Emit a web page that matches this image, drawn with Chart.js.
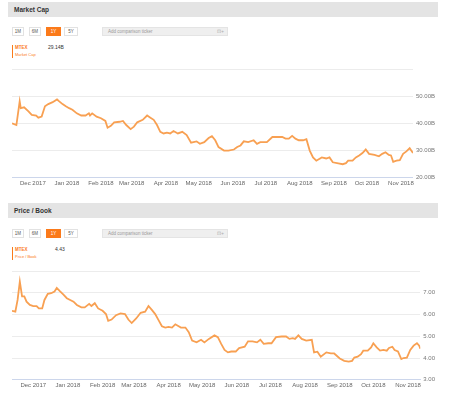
<!DOCTYPE html>
<html>
<head>
<meta charset="utf-8">
<title>MTEX Market Cap / Price to Book</title>
<script src="https://cdn.jsdelivr.net/npm/chart.js@4"></script>
<style>
  body { margin: 0; width: 450px; height: 397px; background: #fff; position: relative; overflow: hidden;
         font-family: Arial, "Liberation Sans", sans-serif; }
  .head { position: absolute; left: 8px; width: 430px; height: 15px; background: #e4e4e4;
          font-size: 6.5px; font-weight: bold; color: #333; line-height: 15px; padding-left: 6px; box-sizing: border-box; }
  .btn { position: absolute; height: 9px; border: 1px solid #e2e2e2; box-sizing: border-box; font-size: 4.5px;
         line-height: 7px; text-align: center; color: #555; background: #fff; }
  .btn.on { background: #fb7a1a; border-color: #fb7a1a; color: #fff; }
  .ticker { position: absolute; left: 102px; width: 126px; height: 9px; background: #efefef; border: 1px solid #e4e4e4;
            box-sizing: border-box; font-size: 4.5px; line-height: 7px; color: #999; padding-left: 5px; }
  .ticker span { position: absolute; right: 3px; top: 0; color: #aaa; }
  .legend { position: absolute; left: 12px; border-left: 1.5px solid #fb7a1a; padding-left: 2px; height: 13px; }
  .legend b { display: block; font-size: 4.5px; color: #fb7a1a; line-height: 6px; }
  .legend i { display: block; font-style: normal; font-size: 4px; color: #fb7a1a; line-height: 7px; }
  .val { position: absolute; font-size: 5px; color: #333; }
  .wrap { position: absolute; left: 0; width: 441px; height: 132px; }
</style>
</head>
<body>
<div class="head" style="top:2px">Market Cap</div>
<div class="btn" style="left:12px;top:27px;width:12px">1M</div>
<div class="btn" style="left:29px;top:27px;width:12px">6M</div>
<div class="btn on" style="left:46px;top:27px;width:15px">1Y</div>
<div class="btn" style="left:64px;top:27px;width:14px">5Y</div>
<div class="ticker" style="top:27px">Add comparison ticker<span>⊡+</span></div>
<div class="legend" style="top:45px"><b>MTEX</b><i>Market Cap</i></div>
<div class="val" style="left:48px;top:44px">29.14B</div>
<div class="wrap" style="top:60px"><canvas id="mcap"></canvas></div>

<div class="head" style="top:203px">Price / Book</div>
<div class="btn" style="left:12px;top:229px;width:12px">1M</div>
<div class="btn" style="left:29px;top:229px;width:12px">6M</div>
<div class="btn on" style="left:46px;top:229px;width:15px">1Y</div>
<div class="btn" style="left:64px;top:229px;width:14px">5Y</div>
<div class="ticker" style="top:229px">Add comparison ticker<span>⊡+</span></div>
<div class="legend" style="top:247px"><b>MTEX</b><i>Price / Book</i></div>
<div class="val" style="left:55px;top:246px">4.43</div>
<div class="wrap" style="top:263px"><canvas id="pb"></canvas></div>

<script>
// month ticks
const monthStarts = ['2017-12-01','2018-01-01','2018-02-01','2018-03-01','2018-04-01','2018-05-01',
  '2018-06-01','2018-07-01','2018-08-01','2018-09-01','2018-10-01','2018-11-01'];
const monthLabels = ['Dec 2017','Jan 2018','Feb 2018','Mar 2018','Apr 2018','May 2018',
  'Jun 2018','Jul 2018','Aug 2018','Sep 2018','Oct 2018','Nov 2018'];
const rangeStart = '2017-11-12';
const rangeEnd = '2018-11-12';

// Market Cap (billions)
const mcapDates = ['2017-11-12','2017-11-16','2017-11-19','2017-11-20','2017-11-23','2017-11-27','2017-11-30',
  '2017-12-04','2017-12-06','2017-12-09','2017-12-12','2017-12-15','2017-12-19','2017-12-23','2017-12-25',
  '2017-12-28','2017-12-31','2018-01-03','2018-01-06','2018-01-10','2018-01-14','2018-01-18','2018-01-21',
  '2018-01-22','2018-01-24','2018-01-28','2018-02-01','2018-02-05','2018-02-07','2018-02-10','2018-02-13',
  '2018-02-18','2018-02-21','2018-02-24','2018-02-28','2018-03-03','2018-03-06','2018-03-11','2018-03-15',
  '2018-03-18','2018-03-21','2018-03-24','2018-03-27','2018-03-30','2018-04-02','2018-04-05','2018-04-08',
  '2018-04-12','2018-04-16','2018-04-20','2018-04-24','2018-04-29','2018-05-02','2018-05-06','2018-05-10',
  '2018-05-13','2018-05-16','2018-05-19','2018-05-24','2018-05-28','2018-06-02','2018-06-05','2018-06-08',
  '2018-06-11','2018-06-15','2018-06-20','2018-06-23','2018-06-26','2018-07-02','2018-07-07','2018-07-11',
  '2018-07-16','2018-07-19','2018-07-22','2018-07-25','2018-07-28','2018-07-31','2018-08-04','2018-08-07',
  '2018-08-10','2018-08-13','2018-08-16','2018-08-21','2018-08-25','2018-08-28','2018-08-31','2018-09-05',
  '2018-09-09','2018-09-12','2018-09-14','2018-09-18','2018-09-21','2018-09-24','2018-09-27','2018-09-30',
  '2018-10-03','2018-10-08','2018-10-12','2018-10-15','2018-10-18','2018-10-21','2018-10-23','2018-10-25',
  '2018-10-28','2018-10-31','2018-11-03','2018-11-06','2018-11-09','2018-11-12'];
const mcapValues = [40.0,39.4,48.1,45.6,45.9,44.4,43.1,
  42.9,42.1,42.5,46.3,47.1,47.8,48.8,48.1,
  47.1,46.3,45.6,45.0,43.7,42.9,42.9,43.7,
  42.9,43.7,42.5,41.9,40.9,38.4,39.1,40.4,
  40.6,40.9,39.4,37.9,38.8,40.4,41.3,42.9,
  42.1,41.3,39.4,36.9,36.3,36.6,36.3,37.2,
  36.3,36.9,35.7,32.9,33.4,32.5,33.1,34.6,
  35.3,33.8,31.3,30.0,30.0,30.4,31.3,31.9,
  33.4,33.1,33.8,32.5,33.1,33.1,35.0,35.0,
  35.0,34.4,34.4,35.4,34.4,33.8,33.8,34.2,
  30.0,27.5,26.3,27.5,27.1,27.5,25.7,25.3,
  25.0,25.4,26.3,26.3,27.5,28.2,29.1,30.4,
  28.8,28.4,27.9,28.8,29.4,28.4,28.2,25.9,
  26.3,26.5,28.8,29.7,30.9,29.1];
const mcapTicks = [20, 30, 40, 50, 60];

// Price / Book
const pbDates = ['2017-11-12','2017-11-15','2017-11-17','2017-11-19','2017-11-21','2017-11-23','2017-11-25',
  '2017-11-28','2017-12-01','2017-12-04','2017-12-06','2017-12-09','2017-12-11','2017-12-14','2017-12-17',
  '2017-12-20','2017-12-22','2017-12-25','2017-12-28','2017-12-31','2018-01-03','2018-01-06','2018-01-09',
  '2018-01-13','2018-01-16','2018-01-20','2018-01-22','2018-01-25','2018-01-28','2018-02-01','2018-02-04',
  '2018-02-06','2018-02-09','2018-02-13','2018-02-17','2018-02-21','2018-02-24','2018-02-27','2018-03-03',
  '2018-03-07','2018-03-11','2018-03-14','2018-03-17','2018-03-20','2018-03-23','2018-03-26','2018-03-29',
  '2018-04-01','2018-04-04','2018-04-07','2018-04-12','2018-04-16','2018-04-19','2018-04-22','2018-04-26',
  '2018-04-30','2018-05-03','2018-05-07','2018-05-12','2018-05-15','2018-05-18','2018-05-21','2018-05-24',
  '2018-05-27','2018-05-31','2018-06-03','2018-06-08','2018-06-11','2018-06-15','2018-06-19','2018-06-22',
  '2018-06-25','2018-06-29','2018-07-02','2018-07-06','2018-07-11','2018-07-15','2018-07-18','2018-07-21',
  '2018-07-23','2018-07-26','2018-07-29','2018-08-02','2018-08-07','2018-08-09','2018-08-12','2018-08-15',
  '2018-08-20','2018-08-24','2018-08-27','2018-09-01','2018-09-05','2018-09-09','2018-09-12','2018-09-14',
  '2018-09-17','2018-09-20','2018-09-22','2018-09-26','2018-09-29','2018-10-01','2018-10-04','2018-10-07',
  '2018-10-10','2018-10-13','2018-10-15','2018-10-18','2018-10-20','2018-10-23','2018-10-26','2018-10-28',
  '2018-10-31','2018-11-03','2018-11-06','2018-11-09','2018-11-11','2018-11-12'];
const pbValues = [6.17,6.13,6.67,7.51,6.83,6.83,6.59,
  6.44,6.39,6.39,6.28,6.28,6.67,6.95,6.98,
  7.06,7.22,7.06,6.91,6.75,6.67,6.59,6.44,
  6.33,6.33,6.49,6.39,6.52,6.28,6.17,6.02,
  5.71,5.77,5.97,6.05,6.02,5.77,5.61,5.82,
  6.08,6.13,6.39,6.21,6.02,5.74,5.46,5.40,
  5.43,5.40,5.55,5.40,5.40,5.19,4.80,4.72,
  4.84,4.72,4.88,5.04,4.96,4.65,4.37,4.26,
  4.30,4.30,4.46,4.52,4.77,4.77,4.72,4.84,
  4.65,4.68,4.68,4.96,4.99,4.99,4.88,4.91,
  4.88,5.04,4.88,4.80,4.84,4.26,4.29,4.06,
  4.26,4.21,4.21,3.98,3.87,3.84,3.87,4.02,
  4.06,4.18,4.34,4.34,4.49,4.68,4.49,4.34,
  4.37,4.34,4.46,4.52,4.37,4.30,3.95,4.00,
  4.02,4.37,4.57,4.68,4.57,4.43];
const pbTicks = [3, 4, 5, 6, 7, 8];

const toMs = d => Date.parse(d + 'T00:00:00Z');
const FONT = { family: 'Arial, "Liberation Sans", sans-serif', size: 6 };

function makeChart(id, dates, values, yTicks, fmt, pad) {
  const ctx = document.getElementById(id).getContext('2d');
  const yMax = yTicks[yTicks.length - 1];
  return new Chart(ctx, {
    type: 'line',
    data: {
      datasets: [{
        data: dates.map((d, i) => ({ x: toMs(d), y: values[i] })),
        borderColor: '#f8a052',
        borderWidth: 1.8,
        pointRadius: 0,
        tension: 0,
        fill: false
      }]
    },
    options: {
      responsive: true,
      maintainAspectRatio: false,
      animation: false,
      events: [],
      layout: { padding: pad },
      plugins: { legend: { display: false }, tooltip: { enabled: false } },
      scales: {
        x: {
          type: 'linear',
          min: toMs(rangeStart),
          max: toMs(rangeEnd),
          afterBuildTicks: axis => { axis.ticks = monthStarts.map(d => ({ value: toMs(d) })); },
          ticks: {
            autoSkip: false, maxRotation: 0, padding: pad.xTick, color: '#666', font: FONT,
            callback: (v, i) => monthLabels[i]
          },
          grid: { display: false, drawTicks: false },
          border: { display: true, color: '#ccd6eb', width: 1 }
        },
        y: {
          position: 'right',
          min: yTicks[0],
          max: yMax,
          afterBuildTicks: axis => { axis.ticks = yTicks.map(v => ({ value: v })); },
          ticks: {
            padding: 3, color: '#777', font: FONT,
            callback: v => v === yMax ? '' : fmt(v)
          },
          grid: { color: '#ececec', drawTicks: false },
          border: { display: false }
        }
      }
    }
  });
}

makeChart('mcap', mcapDates, mcapValues, mcapTicks, v => v.toFixed(2) + 'B',
  { top: 9, bottom: 3, left: 12, right: 3, xTick: 2 });
makeChart('pb', pbDates, pbValues, pbTicks, v => v.toFixed(2),
  { top: 8, bottom: 4, left: 12, right: 3, xTick: 2 });
</script>
</body>
</html>
